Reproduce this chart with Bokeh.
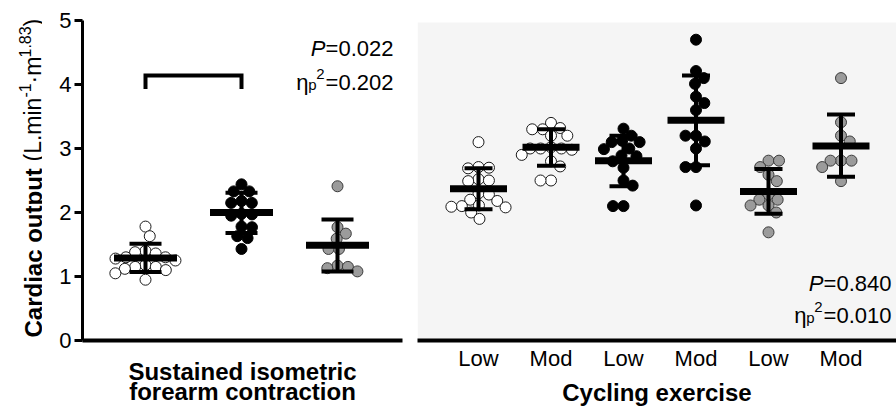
import math
from bokeh.plotting import figure
from bokeh.models import ColumnDataSource, Label, FixedTicker, Spacer, BoxAnnotation
from bokeh.layouts import row
from bokeh.core.properties import value
from bokeh.embed import file_html
from bokeh.resources import INLINE

# ---------------- data ----------------
# Sustained isometric forearm contraction (three groups)
iso_open = [1.78, 1.63, 1.40, 1.38, 1.36, 1.30, 1.30, 1.28, 1.25, 1.18, 1.15, 1.15, 1.12, 1.10, 1.05, 0.95]
iso_black = [2.44, 2.33, 2.33, 2.18, 2.15, 2.15, 1.98, 1.97, 1.95, 1.78, 1.77, 1.63, 1.60, 1.43]
iso_gray = [2.41, 1.77, 1.67, 1.59, 1.43, 1.43, 1.17, 1.15, 1.13, 1.08]
iso_mean = [1.29, 2.00, 1.49]
iso_lo = [1.07, 1.68, 1.08]
iso_hi = [1.51, 2.31, 1.89]

# Cycling exercise (Low / Mod for each group)
cyc_labels = ["Low", "Mod", "Low", "Mod", "Low", "Mod"]
cyc_open_low = [3.10, 2.71, 2.70, 2.69, 2.52, 2.50, 2.49, 2.30, 2.28, 2.20, 2.18, 2.11, 2.10, 2.09, 2.08, 2.00, 1.90]
cyc_open_mod = [3.40, 3.32, 3.30, 3.30, 3.20, 3.20, 3.02, 3.00, 3.00, 3.00, 2.98, 2.90, 2.80, 2.72, 2.50, 2.50]
cyc_black_low = [3.31, 3.20, 3.12, 3.10, 3.10, 3.00, 2.99, 2.89, 2.88, 2.80, 2.70, 2.50, 2.42, 2.10, 2.10]
cyc_black_mod = [4.70, 4.21, 4.10, 4.01, 3.81, 3.71, 3.60, 3.20, 3.20, 3.11, 3.00, 2.71, 2.71, 2.11]
cyc_gray_low = [2.81, 2.81, 2.71, 2.59, 2.49, 2.28, 2.20, 2.20, 2.11, 2.11, 2.00, 1.69]
cyc_gray_mod = [4.10, 3.41, 3.20, 3.11, 2.81, 2.81, 2.81, 2.71, 2.49]
cyc_mean = [2.37, 3.02, 2.81, 3.44, 2.33, 3.04]
cyc_lo = [2.05, 2.73, 2.41, 2.74, 1.98, 2.56]
cyc_hi = [2.69, 3.30, 3.20, 4.14, 2.68, 3.53]

y_ticks = [0, 1, 2, 3, 4, 5]
sig_pair = (0, 1)      # significant pair in isometric panel
sig_level = 4.14
sig_drop = 0.21

iso_stats = ("0.022", "0.202")
cyc_stats = ("0.840", "0.010")

iso_title = "Sustained isometric\nforearm contraction"
cyc_title = "Cycling exercise"
y_title_parts = ["Cardiac output", "(L.min", "-1", "\u00b7m", "1.83", ")"]

iso_groups = [iso_open, iso_black, iso_gray]
iso_kinds = ["open", "black", "gray"]
cyc_groups = [cyc_open_low, cyc_open_mod, cyc_black_low, cyc_black_mod, cyc_gray_low, cyc_gray_mod]
cyc_kinds = ["open", "open", "black", "black", "gray", "gray"]

# ---------------- styling ----------------
FONT = "Liberation Sans"
KIND_STYLE = {
    "open": dict(fill_color="white", line_color="#1a1a1a"),
    "black": dict(fill_color="black", line_color="black"),
    "gray": dict(fill_color="#9b9b9b", line_color="#3a3a3a"),
}
H = 408
TOP, BOTTOM = 8, 68    # frame spans page y 8..340 in every figure
PX_Y = 64.0            # pixels per y unit
Y_TOP = (340 - TOP) / PX_Y
GRAY_TOP = (340 - 22) / PX_Y
L_PX_X = 96.0          # pixels per category (left)
R_PX_X = 72.5          # pixels per category (right)
DOT = 11
GAP = 10.5

LAB_W = 42
LEFT_W = 368           # frame 82..402
GAP_W = 7
RIGHT_W = 479          # frame 417..896

L_X0, L_X1 = -63 / L_PX_X, (320 - 63) / L_PX_X
R_X0, R_X1 = -61 / R_PX_X, (RIGHT_W - 61) / R_PX_X


def lx(px):
    return L_X0 + (px - 82) / L_PX_X


def rx(px):
    return R_X0 + (px - 417) / R_PX_X


def py(pyy):
    return (340 - pyy) / PX_Y


def swarm(values, px_x, d=GAP):
    order = sorted(range(len(values)), key=lambda i: -values[i])
    placed = []
    offs = [0.0] * len(values)
    pref = 1
    for i in order:
        y = values[i] * PX_Y
        cands = [0.0]
        for cx, cy in placed:
            dy = abs(cy - y)
            if dy < d:
                dx = math.sqrt(d * d - dy * dy)
                cands += [cx + dx, cx - dx]

        def ok(c):
            return all((c - cx) ** 2 + (y - cy) ** 2 >= d * d - 1e-6 for cx, cy in placed)

        valid = [c for c in cands if ok(c)]
        valid.sort(key=lambda c: (round(abs(c), 4), 0 if c * pref >= 0 else 1))
        c = valid[0]
        if abs(c) > 1e-9:
            pref = -1 if c > 0 else 1
        placed.append((c, y))
        offs[i] = c / px_x
    return offs


def draw_points(fig, groups, kinds, px_x):
    for idx, (vals, kind) in enumerate(zip(groups, kinds)):
        offs = swarm(vals, px_x)
        src = ColumnDataSource(dict(x=[idx + o for o in offs], y=vals))
        fig.scatter("x", "y", source=src, size=DOT, line_width=1, **KIND_STYLE[kind])


def draw_bars(fig, means, los, his, mean_half, cap_half, mean_w=7, cap_w=4, stem_w=4):
    xs = list(range(len(means)))
    src = ColumnDataSource(dict(
        x=xs, m=means, lo=los, hi=his,
        mx0=[x - mean_half for x in xs], mx1=[x + mean_half for x in xs],
        cx0=[x - cap_half for x in xs], cx1=[x + cap_half for x in xs],
    ))
    fig.segment("x", "lo", "x", "hi", source=src, line_color="black", line_width=stem_w)
    fig.segment("cx0", "hi", "cx1", "hi", source=src, line_color="black", line_width=cap_w)
    fig.segment("cx0", "lo", "cx1", "lo", source=src, line_color="black", line_width=cap_w)
    fig.segment("mx0", "m", "mx1", "m", source=src, line_color="black", line_width=mean_w)


def lbl(fig, x, y, text, size, align="left", baseline="alphabetic", style="normal", angle=0.0):
    fig.add_layout(Label(x=x, y=y, text=text, text_font=FONT, text_font_size=f"{size}px",
                         text_align=align, text_baseline=baseline, text_font_style=style,
                         angle=angle, text_color="black"))


def stats_block(fig, conv, x_right_px, base1, base2, stats):
    pval, eta = stats
    lbl(fig, conv(x_right_px), py(base1), "=" + pval, 22, align="right")
    lbl(fig, conv(x_right_px - 68), py(base1), "P", 22, align="right", style="italic")
    lbl(fig, conv(x_right_px), py(base2), "=" + eta, 22, align="right")
    lbl(fig, conv(x_right_px - 69), py(base2 - 9), "2", 15, align="right")
    lbl(fig, conv(x_right_px - 77), py(base2 + 2), "p", 15, align="right")
    lbl(fig, conv(x_right_px - 85), py(base2), "\u03b7", 22, align="right")


def style_frame(fig, bg):
    fig.background_fill_color = bg
    fig.border_fill_color = "white"
    fig.outline_line_color = None
    fig.xgrid.visible = False
    fig.ygrid.visible = False


# ---------------- y-axis title strip ----------------
lab = figure(width=LAB_W, height=H, x_range=(0, LAB_W), y_range=(0, 340 - TOP),
             output_backend="svg", toolbar_location=None,
             x_axis_location=None, y_axis_location=None,
             min_border_left=0, min_border_right=0, min_border_top=TOP, min_border_bottom=BOTTOM)
style_frame(lab, "white")
rot = math.pi / 2
# (page x of baseline, page y of start, font px, bold?)
part_pos = [(33, 337, 24, True), (32, 161, 23, False), (24, 97, 16, False),
            (32, 83, 23, False), (24, 57, 16, False), (32, 26, 23, False)]
for txt, (bx, sy, fs, bold) in zip(y_title_parts, part_pos):
    lab.text(x=[bx], y=[340 - sy], text=[txt], angle=rot,
             text_font=value(FONT), text_font_size=value(f"{fs}px"),
             text_font_style="bold" if bold else "normal",
             text_align="left", text_baseline="alphabetic", text_color="black")

# ---------------- left panel ----------------
left = figure(width=LEFT_W, height=H, x_range=(L_X0, L_X1), y_range=(0, Y_TOP),
              output_backend="svg", toolbar_location=None,
              min_border_left=40, min_border_right=8, min_border_top=TOP, min_border_bottom=BOTTOM)
style_frame(left, "white")

ya = left.yaxis[0]
ya.ticker = FixedTicker(ticks=y_ticks)
ya.bounds = (0, 5)
ya.axis_line_width = 3
ya.axis_line_color = "black"
ya.major_tick_line_width = 3
ya.major_tick_line_color = "black"
ya.major_tick_out = 8
ya.major_tick_in = 0
ya.minor_tick_out = 0
ya.minor_tick_in = 0
ya.major_label_text_font = FONT
ya.major_label_text_font_size = "22px"
ya.major_label_text_color = "black"
ya.major_label_standoff = 3

xa = left.xaxis[0]
xa.ticker = FixedTicker(ticks=[])
xa.axis_line_width = 4
xa.axis_line_color = "black"
xa.major_tick_out = 0
xa.minor_tick_out = 0
xa.axis_label = iso_title
xa.axis_label_text_font = FONT
xa.axis_label_text_font_size = "24px"
xa.axis_label_text_font_style = "bold"
xa.axis_label_text_color = "black"
xa.axis_label_text_line_height = 0.75
xa.axis_label_standoff = 17

draw_points(left, iso_groups, iso_kinds, L_PX_X)
draw_bars(left, iso_mean, iso_lo, iso_hi, 31.5 / L_PX_X, 16 / L_PX_X)

a, b = sig_pair
left.line([a, a, b, b], [sig_level - sig_drop, sig_level, sig_level, sig_level - sig_drop],
          line_color="black", line_width=4, line_join="miter")

stats_block(left, lx, 393, 48, 82, iso_stats)

# ---------------- right panel ----------------
right = figure(width=RIGHT_W, height=H, x_range=(R_X0, R_X1), y_range=(0, Y_TOP),
               output_backend="svg", toolbar_location=None, y_axis_location=None,
               min_border_left=0, min_border_right=0, min_border_top=TOP, min_border_bottom=BOTTOM)
style_frame(right, "white")
right.add_layout(BoxAnnotation(top=GRAY_TOP, fill_color="#f5f5f5", fill_alpha=1.0,
                               line_color=None, level="underlay"))

rxa = right.xaxis[0]
rxa.ticker = FixedTicker(ticks=list(range(len(cyc_labels))))
rxa.major_label_overrides = {i: labtxt for i, labtxt in enumerate(cyc_labels)}
rxa.axis_line_width = 4
rxa.axis_line_color = "black"
rxa.major_tick_out = 0
rxa.major_tick_in = 0
rxa.minor_tick_out = 0
rxa.minor_tick_in = 0
rxa.major_label_text_font = FONT
rxa.major_label_text_font_size = "22px"
rxa.major_label_text_color = "black"
rxa.major_label_standoff = 5
rxa.axis_label = cyc_title
rxa.axis_label_text_font = FONT
rxa.axis_label_text_font_size = "24px"
rxa.axis_label_text_font_style = "bold"
rxa.axis_label_text_color = "black"
rxa.axis_label_text_line_height = 1.0
rxa.axis_label_standoff = 5

draw_points(right, cyc_groups, cyc_kinds, R_PX_X)
draw_bars(right, cyc_mean, cyc_lo, cyc_hi, 28.5 / R_PX_X, 14 / R_PX_X)

stats_block(right, rx, 891, 283, 315, cyc_stats)

layout = row(lab, left, Spacer(width=GAP_W, height=H), right)
open("out.html", "w").write(file_html(layout, INLINE))
